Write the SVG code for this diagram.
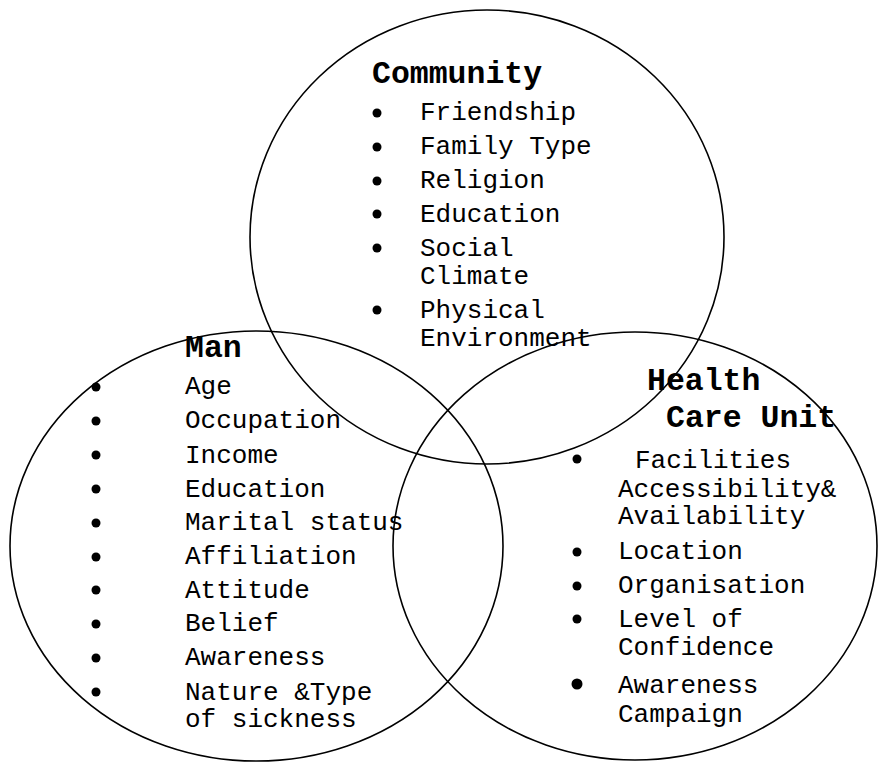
<svg xmlns="http://www.w3.org/2000/svg" width="879" height="762" viewBox="0 0 879 762">
<style>
.c{fill:none;stroke:#000;stroke-width:1.6}
.t{font-family:"Liberation Mono","Courier New",monospace;font-size:26px;fill:#000}
.h{font-family:"Liberation Mono","Courier New",monospace;font-size:31.5px;font-weight:bold;fill:#000}
.b{fill:#000}
</style>
<rect width="879" height="762" fill="#fff"/>
<g id="connectors"></g>
<g id="community">
<ellipse class="c" cx="487" cy="237" rx="237" ry="227"/>
<text class="h" x="372" y="83">Community</text>
<circle class="b" cx="377" cy="113" r="4.5"/><text class="t" x="420" y="120">Friendship</text>
<circle class="b" cx="377" cy="147" r="4.5"/><text class="t" x="420" y="154">Family Type</text>
<circle class="b" cx="377" cy="181" r="4.5"/><text class="t" x="420" y="188">Religion</text>
<circle class="b" cx="377" cy="214" r="4.5"/><text class="t" x="420" y="222">Education</text>
<circle class="b" cx="377" cy="248" r="4.5"/><text class="t" x="420" y="256">Social</text>
<text class="t" x="420" y="284">Climate</text>
<circle class="b" cx="377" cy="310" r="4.5"/><text class="t" x="420" y="318">Physical</text>
<text class="t" x="420" y="346">Environment</text>
</g>
<g id="man">
<ellipse class="c" cx="256.5" cy="546" rx="246.5" ry="215"/>
<text class="h" x="185" y="357">Man</text>
<circle class="b" cx="96" cy="387" r="4.5"/><text class="t" x="185" y="394">Age</text>
<circle class="b" cx="96" cy="421" r="4.5"/><text class="t" x="185" y="428">Occupation</text>
<circle class="b" cx="96" cy="455" r="4.5"/><text class="t" x="185" y="463">Income</text>
<circle class="b" cx="96" cy="489" r="4.5"/><text class="t" x="185" y="497">Education</text>
<circle class="b" cx="96" cy="523" r="4.5"/><text class="t" x="185" y="530">Marital status</text>
<circle class="b" cx="96" cy="557" r="4.5"/><text class="t" x="185" y="564">Affiliation</text>
<circle class="b" cx="96" cy="590" r="4.5"/><text class="t" x="185" y="598">Attitude</text>
<circle class="b" cx="96" cy="624" r="4.5"/><text class="t" x="185" y="631">Belief</text>
<circle class="b" cx="96" cy="658" r="4.5"/><text class="t" x="185" y="665">Awareness</text>
<circle class="b" cx="96" cy="692" r="4.5"/><text class="t" x="185" y="700">Nature &amp;Type</text>
<text class="t" x="185" y="727">of sickness</text>
</g>
<g id="health-care-unit">
<ellipse class="c" cx="635" cy="546" rx="242" ry="214"/>
<text class="h" x="647" y="390">Health</text>
<text class="h" x="666" y="427">Care Unit</text>
<circle class="b" cx="577" cy="459" r="4.5"/><text class="t" x="635" y="468">Facilities</text>
<text class="t" x="618" y="497">Accessibility&amp;</text>
<text class="t" x="618" y="524">Availability</text>
<circle class="b" cx="577" cy="552" r="4.5"/><text class="t" x="618" y="559">Location</text>
<circle class="b" cx="577" cy="586" r="4.5"/><text class="t" x="618" y="593">Organisation</text>
<circle class="b" cx="577" cy="619" r="4.5"/><text class="t" x="618" y="627">Level of</text>
<text class="t" x="618" y="655">Confidence</text>
<circle class="b" cx="577" cy="684" r="5.5"/><text class="t" x="618" y="693">Awareness</text>
<text class="t" x="618" y="722">Campaign</text>
</g>
</svg>
